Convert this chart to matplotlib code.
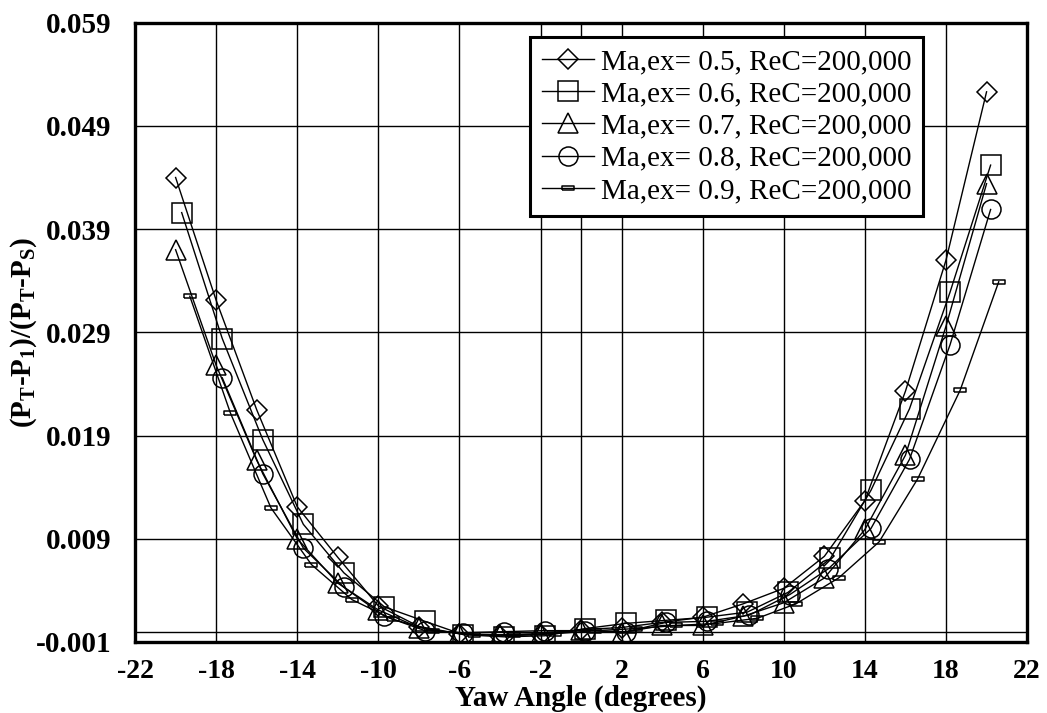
import matplotlib
matplotlib.use('Agg')
import matplotlib.pyplot as plt
import numpy as np

# yaw angle (deg) and pressure coefficient for each exit Mach number
yaw_05 = [-20, -18, -16, -14, -12, -10, -8, -6, -4, -2, 0, 2, 4, 6, 8, 10, 12, 14, 16, 18, 20]
cp_05 = [0.0440, 0.0321, 0.0215, 0.0121, 0.0072, 0.0025, 0.0005, -0.0002, -0.0004, -0.0003, 0.0002,
         0.0004, 0.0009, 0.0014, 0.0027, 0.0042, 0.0073, 0.0127, 0.0233, 0.0360, 0.0523]

yaw_06 = [-19.7, -17.7, -15.7, -13.7, -11.7, -9.7, -7.7, -5.8, -3.8, -1.8, 0.2,
          2.2, 4.2, 6.2, 8.2, 10.2, 12.3, 14.3, 16.2, 18.2, 20.2]
cp_06 = [0.0406, 0.0284, 0.0186, 0.0104, 0.0057, 0.0024, 0.0010, -0.0003, -0.0005, -0.0004, 0.0003,
         0.0008, 0.0011, 0.0014, 0.0019, 0.0038, 0.0071, 0.0137, 0.0216, 0.0329, 0.0452]

yaw_07 = [-20, -18, -16, -14, -12, -10, -8, -6, -4, -2, 0, 2, 4, 6, 8, 10, 12, 14, 16, 18, 20]
cp_07 = [0.0370, 0.0258, 0.0166, 0.0090, 0.0047, 0.0021, 0.0004, -0.0002, -0.0003, -0.0002, 0.0002,
         -0.0001, 0.0006, 0.0006, 0.0015, 0.0028, 0.0052, 0.0099, 0.0171, 0.0296, 0.0434]

yaw_08 = [-17.7, -15.7, -13.7, -11.7, -9.7, -7.7, -5.8, -3.8, -1.8, 0.2,
          2.2, 4.2, 6.2, 8.3, 10.3, 12.2, 14.3, 16.2, 18.2, 20.2]
cp_08 = [0.0246, 0.0153, 0.0081, 0.0043, 0.0015, 0.0001, -0.0001, 0.0000, 0.0001, 0.0001,
         0.0000, 0.0009, 0.0010, 0.0016, 0.0036, 0.0061, 0.0100, 0.0167, 0.0278, 0.0409]

yaw_09 = [-19.3, -17.3, -15.3, -13.3, -11.3, -9.3, -7.3, -5.3, -3.3, -1.3, 0.7,
          2.7, 4.7, 6.7, 8.7, 10.6, 12.7, 14.7, 16.6, 18.7, 20.6]
cp_09 = [0.0325, 0.0212, 0.0120, 0.0065, 0.0031, 0.0012, 0.0001, -0.0003, -0.0003, -0.0002, 0.0001,
         0.0003, 0.0006, 0.0008, 0.0013, 0.0027, 0.0052, 0.0087, 0.0148, 0.0234, 0.0339]

labels = ['Ma,ex= 0.5, ReC=200,000', 'Ma,ex= 0.6, ReC=200,000', 'Ma,ex= 0.7, ReC=200,000',
          'Ma,ex= 0.8, ReC=200,000', 'Ma,ex= 0.9, ReC=200,000']

xticks = np.arange(-22, 23, 4)
yticks = [-0.001, 0.009, 0.019, 0.029, 0.039, 0.049, 0.059]

plt.rcParams['font.family'] = ['Liberation Serif', 'DejaVu Serif']
plt.rcParams['mathtext.fontset'] = 'custom'
plt.rcParams['mathtext.rm'] = 'Liberation Serif'
plt.rcParams['mathtext.bf'] = 'Liberation Serif:bold'

dash = [(-1, -0.35), (1, -0.35), (1, 0.35), (-1, 0.35), (-1, -0.35)]

fig = plt.figure(figsize=(10.47, 7.13), dpi=100)
ax = fig.add_axes([0.129, 0.0996, 0.852, 0.8686])

series = [(yaw_05, cp_05, 'D', 9.7), (yaw_06, cp_06, 's', 13.7), (yaw_07, cp_07, '^', 13.7),
          (yaw_08, cp_08, 'o', 13.7), (yaw_09, cp_09, dash, 8)]
for (xs, ys, mk, ms), lab in zip(series, labels):
    ax.plot(xs, ys, color='k', linewidth=1.0, marker=mk, markersize=ms,
            markerfacecolor='none', markeredgecolor='k', markeredgewidth=1.1,
            label=lab, zorder=3)

ax.set_xlim(-22, 22)
ax.set_ylim(-0.001, 0.059)
ax.set_xticks(xticks)
ax.set_yticks(yticks)
ax.set_xticklabels([str(t) for t in xticks])
ax.set_yticklabels(['%.3f' % t for t in yticks])
ax.tick_params(length=0)
ax.tick_params(axis='x', pad=12, labelsize=20)
ax.tick_params(axis='y', pad=17, labelsize=21)
for lab in ax.get_xticklabels() + ax.get_yticklabels():
    lab.set_fontweight('bold')

ax.grid(True, color='k', linewidth=1.0)
ax.axvline(0, color='k', linewidth=1.0, zorder=1)
ax.axhline(0, color='k', linewidth=1.0, zorder=1)
for sp in ax.spines.values():
    sp.set_linewidth(2.4)

ax.set_xlabel('Yaw Angle (degrees)', fontsize=21, fontweight='bold', labelpad=1)
ax.set_ylabel(r'$\mathbf{(P_T}$-$\mathbf{P_1)/(P_T}$-$\mathbf{P_S)}$', fontsize=21,
              fontweight='bold')
ax.yaxis.set_label_coords(-0.108, 0.5)

leg = ax.legend(loc='upper left', bbox_to_anchor=(0.443, 0.977), fontsize=21,
                frameon=True, fancybox=False, framealpha=1, edgecolor='k',
                handlelength=1.78, handletextpad=0.25, labelspacing=0.2,
                borderpad=0.4, borderaxespad=0)
leg.get_frame().set_linewidth(2.2)

fig.savefig('out.png', dpi=100)
